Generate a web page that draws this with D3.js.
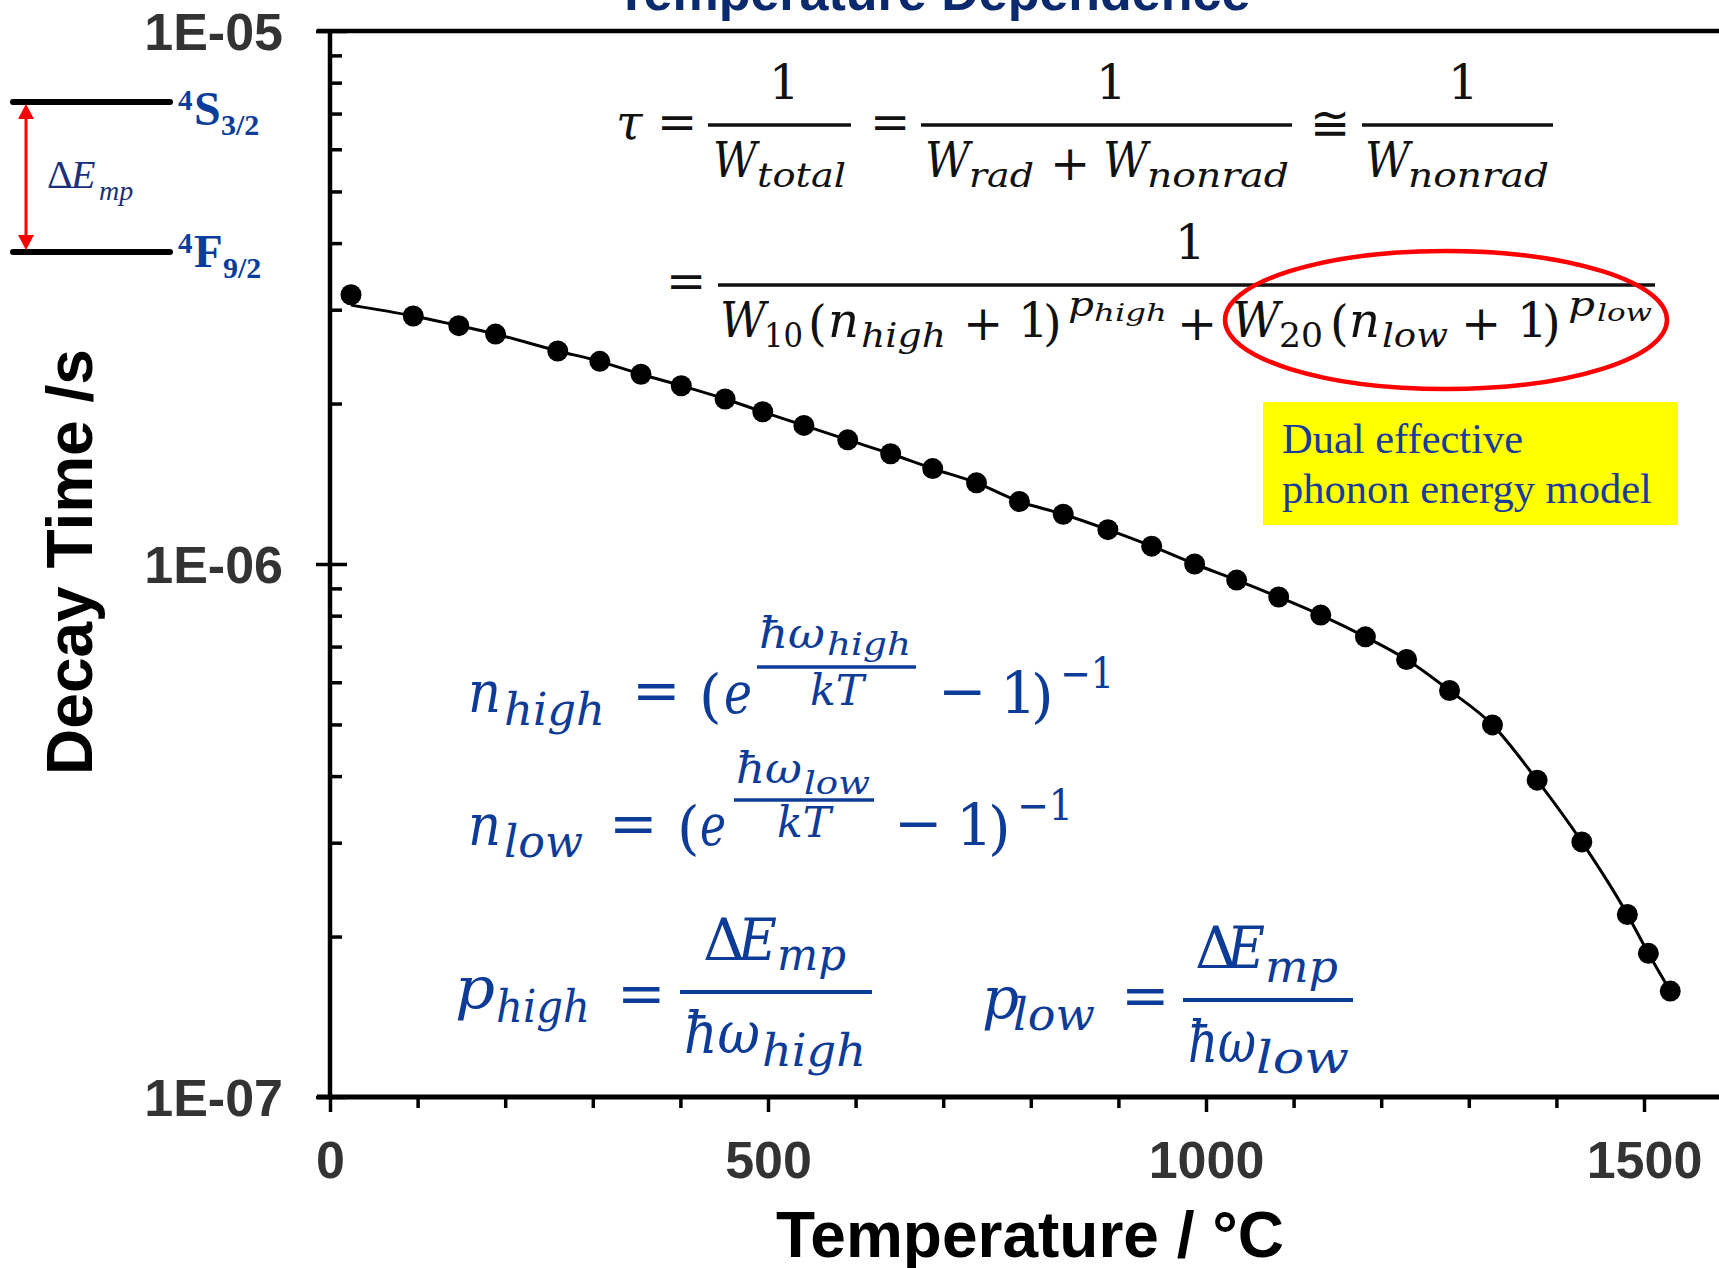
<!DOCTYPE html>
<html><head><meta charset="utf-8">
<script src="https://cdn.jsdelivr.net/npm/d3@7"></script>
<style>html,body{margin:0;padding:0;background:#fff;overflow:hidden}</style>
</head><body>
<svg id="c" width="1719" height="1268" xmlns="http://www.w3.org/2000/svg"></svg>
<script>
// ---------- data ----------
const temperatures = [24,95,147,189,260,308,355,401,451,494,541,591,640,688,738,787,837,888,938,987,1035,1083,1131,1182,1229,1278,1327,1378,1429,1481,1505,1530];
const decayTimes = [3.20e-6,2.92e-6,2.80e-6,2.70e-6,2.51e-6,2.40e-6,2.27e-6,2.16e-6,2.04e-6,1.93e-6,1.82e-6,1.71e-6,1.61e-6,1.51e-6,1.42e-6,1.31e-6,1.24e-6,1.16e-6,1.08e-6,1.00e-6,9.33e-7,8.67e-7,8.02e-7,7.30e-7,6.62e-7,5.79e-7,4.99e-7,3.93e-7,3.01e-7,2.20e-7,1.86e-7,1.58e-7];
const fitTimes   = [3.06e-6,2.92e-6,2.80e-6,2.70e-6,2.51e-6,2.40e-6,2.27e-6,2.16e-6,2.04e-6,1.93e-6,1.82e-6,1.71e-6,1.61e-6,1.51e-6,1.42e-6,1.31e-6,1.24e-6,1.16e-6,1.08e-6,1.00e-6,9.33e-7,8.67e-7,8.02e-7,7.30e-7,6.62e-7,5.79e-7,4.99e-7,3.93e-7,3.01e-7,2.20e-7,1.86e-7,1.58e-7];
const xTicks = [0,100,200,300,400,500,600,700,800,900,1000,1100,1200,1300,1400,1500];
const xTickLabels = [0,500,1000,1500];
const yMajorTicks = [1e-7,1e-6,1e-5];
const yTickLabels = ["1E-07","1E-06","1E-05"];
const yMinorTicks = [2e-7,3e-7,4e-7,5e-7,6e-7,7e-7,8e-7,9e-7,2e-6,3e-6,4e-6,5e-6,6e-6,7e-6,8e-6,9e-6];
const chartTitle = "Temperature Dependence";
const xTitle = "Temperature / °C";
const yTitle = "Decay Time /s";

// ---------- setup ----------
const svg = d3.select("#c");
const W = 1719;
const x = d3.scaleLinear().domain([0,1500]).range([330,1644]);
const y = d3.scaleLog().domain([1e-7,1e-5]).range([1097,31]);
const SANS = "'Liberation Sans', Arial, sans-serif";
const SERIF = "'Liberation Serif', 'Times New Roman', serif";
const MATH = "'DejaVu Serif', serif";
const BLUE = "#0d3b98";

// title (cut off at top, as in the original)
svg.append("text").attr("x",933).attr("y",10).attr("text-anchor","middle")
  .attr("font-family",SANS).attr("font-weight","bold").attr("font-size",52)
  .attr("fill","#0b2a6e").text(chartTitle);

// frame lines
svg.append("line").attr("x1",317).attr("x2",W).attr("y1",y(1e-5)).attr("y2",y(1e-5))
  .attr("stroke","#000").attr("stroke-width",4.5);
svg.append("line").attr("x1",317).attr("x2",W).attr("y1",y(1e-7)).attr("y2",y(1e-7))
  .attr("stroke","#000").attr("stroke-width",5);
svg.append("line").attr("x1",x(0)).attr("x2",x(0)).attr("y1",y(1e-5)-2).attr("y2",y(1e-7))
  .attr("stroke","#000").attr("stroke-width",4.5);

// x axis
const gx = svg.append("g").attr("transform",`translate(0,${y(1e-7)})`)
  .call(d3.axisBottom(x).tickValues(xTicks).tickSize(11)
    .tickFormat(d => xTickLabels.includes(d) ? String(d) : ""));
gx.select(".domain").remove();
gx.selectAll(".tick line").attr("stroke","#000").attr("stroke-width",3.5)
  .attr("y2", d => xTickLabels.includes(d) ? 15 : 11);
gx.selectAll(".tick text").attr("y",81).attr("dy",null)
  .attr("font-family",SANS).attr("font-weight","bold").attr("font-size",52).attr("fill","#333");

// y axis major (left, crossing)
const gy = svg.append("g").attr("transform",`translate(${x(0)},0)`)
  .call(d3.axisLeft(y).tickValues(yMajorTicks).tickSize(14)
    .tickFormat((d,i) => yTickLabels[i]));
gy.select(".domain").remove();
gy.selectAll(".tick line").attr("stroke","#000").attr("stroke-width",3.5).attr("x1",17);
gy.selectAll(".tick text").attr("x",-47).attr("dy","0.36em")
  .attr("font-family",SANS).attr("font-weight","bold").attr("font-size",52).attr("fill","#333");

// y axis minor (inside)
const gym = svg.append("g").attr("transform",`translate(${x(0)},0)`)
  .call(d3.axisRight(y).tickValues(yMinorTicks).tickSize(12).tickFormat(""));
gym.select(".domain").remove();
gym.selectAll(".tick line").attr("stroke","#000").attr("stroke-width",3.5);

// axis titles
svg.append("text").attr("x",1030).attr("y",1257).attr("text-anchor","middle")
  .attr("font-family",SANS).attr("font-weight","bold").attr("font-size",64).attr("fill","#000").text(xTitle);
svg.append("text").attr("transform","translate(92,562) rotate(-90)").attr("text-anchor","middle")
  .attr("font-family",SANS).attr("font-weight","bold").attr("font-size",64).attr("fill","#000").text(yTitle);

// data
const pts = temperatures.map((t,i) => ({t, v: decayTimes[i], f: fitTimes[i]}));
svg.append("path").datum(pts)
  .attr("d", d3.line().x(d => x(d.t)).y(d => y(d.f)).curve(d3.curveMonotoneX))
  .attr("fill","none").attr("stroke","#000").attr("stroke-width",3);
svg.append("g").selectAll("circle").data(pts).join("circle")
  .attr("cx", d => x(d.t)).attr("cy", d => y(d.v)).attr("r",10.5).attr("fill","#000");

// ---------- energy level diagram ----------
const lv = svg.append("g");
lv.append("line").attr("x1",13).attr("x2",170).attr("y1",102).attr("y2",102)
  .attr("stroke","#000").attr("stroke-width",6).attr("stroke-linecap","round");
lv.append("line").attr("x1",13).attr("x2",170).attr("y1",252).attr("y2",252)
  .attr("stroke","#000").attr("stroke-width",6).attr("stroke-linecap","round");
lv.append("line").attr("x1",26).attr("x2",26).attr("y1",115).attr("y2",238)
  .attr("stroke","#ff0000").attr("stroke-width",3);
lv.append("path").attr("d","M26,104 L18,119 L34,119 Z").attr("fill","#ff0000");
lv.append("path").attr("d","M26,250 L18,235 L34,235 Z").attr("fill","#ff0000");
function lbl(g, s, xx, yy, size, opts={}) {
  return g.append("text").attr("x",xx).attr("y",yy).attr("font-size",size)
    .attr("font-family",SERIF).attr("font-weight",opts.bold?"bold":"normal")
    .attr("font-style",opts.italic?"italic":"normal").attr("fill",opts.fill||BLUE).text(s);
}
lbl(lv,"4",178,110,29,{bold:1,fill:"#0a3d9c"});
lbl(lv,"S",194,125,48,{bold:1,fill:"#0a3d9c"});
lbl(lv,"3/2",221,135,30,{bold:1,fill:"#0a3d9c"});
lbl(lv,"4",178,253,29,{bold:1,fill:"#0a3d9c"});
lbl(lv,"F",194,267,47,{bold:1,fill:"#0a3d9c"});
lbl(lv,"9/2",223,278,30,{bold:1,fill:"#0a3d9c"});
lbl(lv,"Δ",47,188,40,{fill:"#1b2f7a"});
lbl(lv,"E",71,188,40,{italic:1,fill:"#1b2f7a"});
lbl(lv,"mp",99,200,28,{italic:1,fill:"#1b2f7a"});

// ---------- formulas ----------
function mt(g, p, fill) {
  const [s, xx, yy, size, w, up] = p;
  const t = g.append("text").attr("x",xx).attr("y",yy).attr("font-size",size)
    .attr("font-family",MATH).attr("font-style",up?"normal":"italic").attr("fill",fill).text(s);
  if (w) t.attr("textLength",w).attr("lengthAdjust","spacingAndGlyphs");
}
function bar(g, x1, x2, yy, fill, sw) {
  g.append("line").attr("x1",x1).attr("x2",x2).attr("y1",yy).attr("y2",yy)
    .attr("stroke",fill).attr("stroke-width",sw||3.5);
}
const fm = svg.append("g");
const K = "#111";
[
 ["τ",616,139,48,0,0],["=",657,139,48,0,1],["1",769,99,48,0,1],
 ["W",713,177,48,44,0],["total",757,187,34,89,0],
 ["=",870,139,48,0,1],["1",1096,99,48,0,1],
 ["W",925,177,48,45,0],["rad",969,187,34,65,0],["+",1050,180,48,0,1],
 ["W",1103,177,48,45,0],["nonrad",1147,187,34,142,0],
 ["≅",1310,140,48,0,1],["1",1448,99,48,0,1],
 ["W",1365,177,48,45,0],["nonrad",1408,187,34,141,0],
 ["=",666,298,48,0,1],["1",1175,259,48,0,1],
 ["W",720,337,48,46,0],["10",764,347,34,39,1],["(",808,340,48,0,1],
 ["n",828,337,48,31,0],["high",861,347,34,85,0],["+",963,340,48,0,1],
 ["1",1018,337,48,0,1],[")",1043,340,48,0,1],
 ["p",1068,316,34,26,0],["high",1094,321,25,73,0],["+",1177,340,48,0,1],
 ["W",1232,337,48,48,0],["20",1279,347,34,44,1],["(",1330,340,48,0,1],
 ["n",1349,337,48,31,0],["low",1382,347,34,66,0],["+",1461,340,48,0,1],
 ["1",1517,337,48,0,1],[")",1542,340,48,0,1],
 ["p",1568,316,34,27,0],["low",1597,321,25,55,0]
].forEach(p => mt(fm,p,K));
bar(fm,708,851,125,K); bar(fm,921,1292,125,K); bar(fm,1362,1553,125,K);
bar(fm,718,1655,285,K);

// red ellipse
svg.append("ellipse").attr("cx",1446).attr("cy",320).attr("rx",221).attr("ry",69)
  .attr("fill","none").attr("stroke","#ff0000").attr("stroke-width",4.5);

// yellow box
svg.append("rect").attr("x",1263).attr("y",402).attr("width",415).attr("height",123).attr("fill","#ffff00");
lbl(svg,"Dual effective",1282,453,42.5,{fill:"#1a3a9c"});
lbl(svg,"phonon energy model",1282,503,42.5,{fill:"#1a3a9c"});

// blue formulas
const bf = svg.append("g");
[
 ["n",468,712,58,33,0],["high",504,725,44,101,0],["=",632,710,58,0,1],["(",699,716,58,0,1],
 ["e",724,713,58,28,0],["ħω",759,648,42,66,0],["high",827,655,31,84,0],["kT",810,705,42,54,0],
 ["−",938,711,58,0,1],["1",1000,713,58,0,1],[")",1031,716,58,0,1],["−1",1060,688,42,54,1],
 ["n",468,845,58,33,0],["low",504,857,44,79,0],["=",609,843,58,0,1],["(",677,848,58,0,1],
 ["e",700,845,58,26,0],["ħω",736,783,42,66,0],["low",804,794,31,66,0],["kT",777,837,42,54,0],
 ["−",894,843,58,0,1],["1",956,845,58,0,1],[")",988,848,58,0,1],["−1",1017,820,42,56,1],
 ["p",455,1008,58,40,0],["high",496,1022,44,94,0],["=",617,1013,58,0,1],
 ["Δ",703,960,58,0,1],["E",738,960,58,39,0],["mp",777,970,44,69,0],
 ["ħω",684,1053,58,76,0],["high",762,1066,44,104,0],
 ["p",982,1018,58,0,0],["low",1013,1030,44,82,0],["=",1121,1015,58,0,1],
 ["Δ",1195,968,58,0,1],["E",1227,968,58,38,0],["mp",1265,982,44,73,0],
 ["ħω",1188,1062,58,68,0],["low",1256,1073,44,93,0]
].forEach(p => mt(bf,p,BLUE));
bar(bf,757,916,667,BLUE,3.5); bar(bf,734,874,800,BLUE,3.5);
bar(bf,680,872,992,BLUE,4); bar(bf,1183,1353,1000,BLUE,4);
</script>
</body></html>
